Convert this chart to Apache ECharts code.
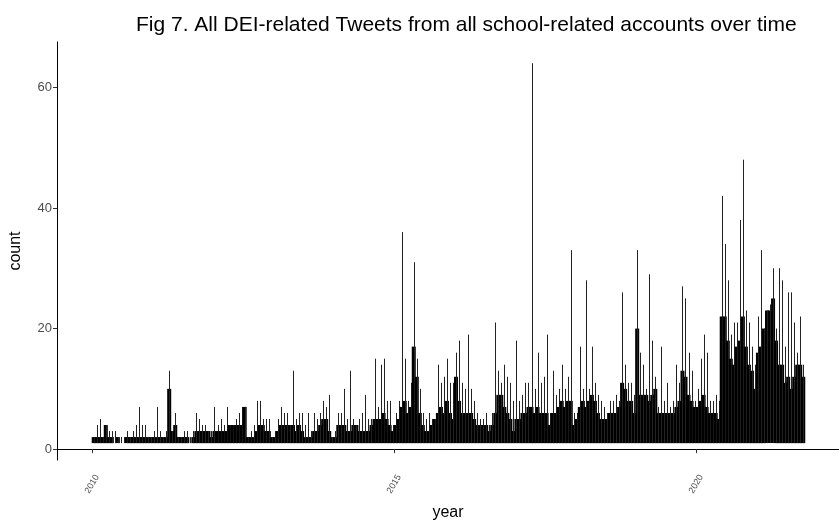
<!DOCTYPE html>
<html>
<head>
<meta charset="utf-8">
<script src="https://cdn.jsdelivr.net/npm/echarts@6/dist/echarts.min.js"></script>
<style>html,body{margin:0;padding:0;background:#fff;}#c{width:839px;height:526px;}</style>
</head>
<body>
<div id="c"></div>
<script>
// Bins of 0.05 year starting 2010.0
const binStart = 2010.0;
const binWidth = 0.05;
// solid (dense) level of the black mass per bin
const body = [
2,2,2,2,4,2,2,1,2,1,
1,2,2,2,2,2,2,2,2,2,
2,2,2,2,2,10,3,4,2,2,
2,2,1,2,3,3,3,3,3,2,
3,3,3,3,3,4,4,4,4,4,
7,2,2,2,3,4,4,3,3,2,
2,3,4,4,4,4,4,3,4,3,
2,2,2,3,3,4,5,5,3,2,
2,4,4,4,3,3,4,4,3,3,
3,3,4,5,5,5,6,5,4,3,
4,5,7,8,6,7,17,12,6,4,
3,3,4,5,6,7,6,8,6,5,
12,8,6,6,6,6,5,4,4,4,
4,3,4,6,9,9,7,6,5,3,
5,5,6,6,7,7,6,7,6,6,
6,4,6,6,7,8,7,8,8,4,
5,7,8,7,8,9,8,6,5,5,
5,6,6,6,7,11,10,8,8,6,
20,9,9,9,8,9,10,6,6,6,
6,6,6,7,8,13,12,9,8,7,
7,8,9,7,6,6,6,5,22,22,
18,15,14,17,18,22,17,14,13,10,
16,17,20,23,23,25,18,14,14,11,
12,10,12,14,14,12
];
// highest daily count within each bin
const peak = [
2,4,5,2,4,3,3,3,2,2,
2,3,2,3,4,7,4,4,2,2,
3,7,3,2,3,13,3,6,2,2,
3,3,2,3,6,5,4,4,3,3,
7,4,5,4,7,4,4,5,6,7,
7,2,3,4,8,8,5,5,5,2,
3,5,7,6,6,4,13,5,6,6,
4,6,3,6,5,6,8,7,9,2,
3,6,6,10,5,13,5,4,5,6,
9,5,5,15,7,14,15,8,8,4,
6,8,36,15,8,11,31,15,10,6,
5,6,5,5,14,11,12,15,11,11,
16,18,11,10,19,10,8,6,5,5,
6,4,6,21,13,11,14,12,11,8,
18,8,9,11,11,64,10,16,11,12,
19,6,13,9,10,14,10,12,33,6,
6,17,10,28,10,17,11,9,8,7,
6,8,8,9,8,26,14,11,11,9,
33,16,14,10,29,18,12,7,17,8,
11,7,8,14,11,27,25,16,13,8,
10,15,19,16,8,8,9,8,42,34,
28,19,21,21,38,48,23,21,17,14,
22,33,20,23,24,30,20,30,28,17,
26,26,21,16,22,14
];
const xTicks = [2010, 2015, 2020];
const yTicks = [0, 20, 40, 60];
const baseCount = 1;

const data = body.map((b, i) => [binStart + i * binWidth, b, peak[i]]);

const chart = echarts.init(document.getElementById('c'), null, {renderer: 'canvas'});
const font = "'Liberation Sans', Arial, sans-serif";
chart.setOption({
  animation: false,
  backgroundColor: '#ffffff',
  title: {
    text: 'Fig 7. All DEI-related Tweets from all school-related accounts over time',
    left: 131, top: 10,
    textStyle: {fontFamily: font, fontSize: 21, fontWeight: 'normal', color: '#000'}
  },
  grid: {left: 52, top: 42, width: 799, height: 424, containLabel: false},
  xAxis: {
    type: 'value', min: 2009.417, max: 2022.367,
    name: 'year', nameLocation: 'middle', nameGap: 45,
    nameTextStyle: {fontFamily: font, fontSize: 16, color: '#000'},
    axisLine: {show: true, lineStyle: {color: '#000', width: 1}},
    axisTick: {show: true, customValues: xTicks, length: 4, lineStyle: {color: '#333'}},
    axisLabel: {customValues: xTicks, rotate: 60, fontSize: 9, color: '#4d4d4d', fontFamily: font,
      margin: 24, align: 'center', verticalAlign: 'middle',
      formatter: v => String(v)},
    splitLine: {show: false}
  },
  yAxis: {
    type: 'value', min: -1.8, max: 67.52,
    name: 'count', nameLocation: 'middle', nameGap: 33, nameRotate: 90,
    nameTextStyle: {fontFamily: font, fontSize: 16, color: '#000'},
    axisLine: {show: true, lineStyle: {color: '#000', width: 1}},
    axisTick: {show: true, customValues: yTicks, length: 4, lineStyle: {color: '#333'}},
    axisLabel: {customValues: yTicks, fontSize: 13, color: '#4d4d4d', fontFamily: font, margin: 5},
    splitLine: {show: false}
  },
  series: [{
    type: 'custom',
    data: data,
    encode: {x: 0, y: [1, 2]},
    renderItem: function (params, api) {
      const x0 = api.value(0);
      const b0 = api.coord([x0, baseCount]);
      const b1 = api.coord([x0 + binWidth, api.value(1)]);
      const pk = api.coord([x0 + binWidth / 2, api.value(2)]);
      return {
        type: 'group',
        children: [
          {type: 'rect', shape: {x: b0[0] - 0.5, y: b1[1], width: b1[0] - b0[0] + 1, height: b0[1] - b1[1]},
            style: {fill: '#000'}},
          {type: 'line', shape: {x1: Math.round(pk[0]) + 0.5, y1: b0[1], x2: Math.round(pk[0]) + 0.5, y2: pk[1]},
            style: {stroke: '#222', lineWidth: 1}}
        ]
      };
    }
  }]
});
</script>
</body>
</html>
